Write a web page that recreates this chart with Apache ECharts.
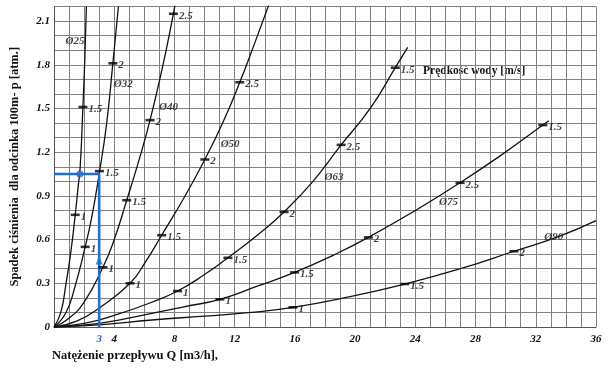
<!DOCTYPE html>
<html>
<head>
<meta charset="utf-8">
<script src="https://cdn.jsdelivr.net/npm/echarts@6/dist/echarts.min.js"></script>
<style>html,body{margin:0;padding:0;background:#fff}#c{width:610px;height:370px}</style>
</head>
<body>
<div id="c"></div>
<script>
// ---- data (Q [m3/h], p [atm/100m]) ----
const pipeNames = ['Ø25','Ø32','Ø40','Ø50','Ø63','Ø75','Ø90'];
const curve25 = [[0,0],[0.45,0.1],[0.8,0.3],[1.1,0.5],[1.41,0.77],[1.6,0.96],[1.74,1.1],[1.92,1.51],[2.05,1.85],[2.15,2.2]];
const curve32 = [[0,0],[0.8,0.1],[1.4,0.28],[2.07,0.55],[2.5,0.75],[3.0,1.05],[3.5,1.4],[3.91,1.81],[4.28,2.2]];
const curve40 = [[0,0],[1,0.06],[2,0.17],[3.25,0.41],[4.0,0.6],[4.83,0.87],[5.6,1.13],[6.38,1.42],[7.2,1.78],[7.93,2.15],[8.05,2.22]];
const curve50 = [[0,0],[1.5,0.04],[3,0.13],[5.05,0.3],[6.1,0.45],[7.15,0.63],[8.6,0.88],[10.02,1.15],[11.2,1.4],[12.34,1.68],[13.3,1.94],[14.3,2.22]];
const curve63 = [[0,0],[2,0.025],[4,0.08],[6.5,0.17],[8.21,0.247],[10,0.36],[11.55,0.475],[13.5,0.63],[15.28,0.79],[17.2,1.0],[19.07,1.25],[21,1.5],[22.67,1.78],[23.49,1.92]];
const curve75 = [[0,0],[3,0.025],[6.5,0.094],[8.7,0.14],[11.02,0.19],[13.5,0.28],[15.98,0.375],[18.5,0.49],[20.88,0.615],[24,0.8],[26.97,0.99],[29.7,1.18],[32.47,1.386],[32.87,1.416]];
const curve90 = [[0,0],[3,0.015],[6.5,0.048],[10,0.075],[13.1,0.1],[15.87,0.135],[19.5,0.205],[23.3,0.295],[27,0.4],[30.55,0.52],[33.5,0.62],[36,0.73]];
const curves = [curve25, curve32, curve40, curve50, curve63, curve75, curve90];

// velocity marks [Q, p, label]
const vel25 = [[1.41,0.77,'1'],[1.92,1.51,'1.5']];
const vel32 = [[2.07,0.55,'1'],[3.02,1.07,'1.5'],[3.91,1.81,'2']];
const vel40 = [[3.25,0.41,'1'],[4.83,0.87,'1.5'],[6.38,1.42,'2'],[7.93,2.15,'2.5']];
const vel50 = [[5.05,0.30,'1'],[7.15,0.63,'1.5'],[10.02,1.15,'2'],[12.34,1.68,'2.5']];
const vel63 = [[8.21,0.247,'1'],[11.55,0.475,'1.5'],[15.28,0.79,'2'],[19.07,1.25,'2.5'],[22.67,1.78,'1.5']];
const vel75 = [[11.02,0.19,'1'],[15.98,0.375,'1.5'],[20.88,0.615,'2'],[26.97,0.99,'2.5'],[32.47,1.386,'1.5']];
const vel90 = [[15.87,0.135,'1'],[23.3,0.295,'1.5'],[30.55,0.52,'2']];
const velMarks = [].concat(vel25, vel32, vel40, vel50, vel63, vel75, vel90);

// pipe name label anchors [Q, p]
const pipeLabelPos = [[1.4,1.96],[4.6,1.67],[7.6,1.51],[11.7,1.256],[18.6,1.03],[26.2,0.86],[33.2,0.615]];

// example reading (blue)
const exampleQ = 3;
const exampleP = 1.05;
const exampleArrowP = 0.46;
const exampleDotQ = 1.72;

const xTickLabels = [3,4,8,12,16,20,24,28,32,36];
const yTickLabels = [0,0.3,0.6,0.9,1.2,1.5,1.8,2.1];

const xTitle = 'Natężenie przepływu Q [m3/h],';
const yTitle = 'Spadek ciśnienia  dla odcinka 100m- p [atm.]';
const velTitle = 'Prędkość wody [m/s]';

// ---- chart ----
const SERIF = '"Liberation Serif","DejaVu Serif",serif';
const BLUE = '#1f6fd0';
const chart = echarts.init(document.getElementById('c'), null, {renderer:'canvas'});

const series = [];
curves.forEach((c, i) => {
  series.push({
    type:'line', name:pipeNames[i], data:c, smooth:0.5,
    symbol:'none', lineStyle:{color:'#111', width:1.3}, z:3, animation:false
  });
});
series.push({
  type:'line', data:[[0,exampleP],[exampleQ,exampleP],[exampleQ,0]],
  symbol:'none', lineStyle:{color:BLUE, width:2.6}, z:4, animation:false
});
series.push({
  type:'scatter', data:[[exampleQ,exampleArrowP]], symbol:'triangle', symbolSize:[7,9],
  itemStyle:{color:BLUE}, z:5, animation:false
});
series.push({
  type:'scatter', data:[[exampleDotQ,exampleP]], symbol:'circle', symbolSize:7,
  itemStyle:{color:BLUE}, z:5, animation:false
});
series.push({
  type:'scatter', data:velMarks.map(m => ({value:[m[0],m[1]], label:{formatter:m[2]}})),
  symbol:'rect', symbolSize:[9,2.6], itemStyle:{color:'#000'}, z:6, animation:false,
  label:{show:true, position:'right', distance:1, offset:[0,2],
    fontFamily:SERIF, fontStyle:'italic', fontWeight:'bold', fontSize:11, color:'#111'}
});
series.push({
  type:'scatter', data:pipeLabelPos.map((p,i) => ({value:p, label:{formatter:pipeNames[i]}})),
  symbolSize:0, z:6, animation:false,
  label:{show:true, position:'inside',
    fontFamily:SERIF, fontStyle:'italic', fontWeight:'bold', fontSize:11, color:'#111'}
});

chart.setOption({
  backgroundColor:'#fff',
  animation:false,
  grid:{left:52, right:14, top:6.5, bottom:43, containLabel:false},
  xAxis:{
    type:'value', min:0, max:36, interval:1,
    axisLine:{show:true, lineStyle:{color:'#555', width:1}},
    axisTick:{show:false},
    splitLine:{show:true, lineStyle:{color:'#808080', width:1}},
    axisLabel:{
      margin:7, interval:0,
      formatter:v => xTickLabels.indexOf(v) < 0 ? '' : (v === exampleQ ? '{b|' + v + '}' : '{n|' + v + '}'),
      rich:{
        n:{fontFamily:SERIF, fontStyle:'italic', fontWeight:'bold', fontSize:11, color:'#111'},
        b:{fontFamily:SERIF, fontStyle:'italic', fontWeight:'bold', fontSize:11, color:BLUE}
      }
    }
  },
  yAxis:{
    type:'value', min:0, max:2.2, interval:0.1,
    axisLine:{show:true, lineStyle:{color:'#555', width:1}},
    axisTick:{show:false},
    splitLine:{show:true, lineStyle:{color:'#808080', width:1}},
    axisLabel:{
      margin:4,
      formatter:v => {
        const k = Math.round(v*10);
        const hit = yTickLabels.find(t => Math.round(t*10) === k);
        if (hit === undefined) return '';
        return hit === 0 ? '0' : hit.toFixed(1);
      },
      fontFamily:SERIF, fontStyle:'italic', fontWeight:'bold', fontSize:11, color:'#111'
    },
    name:yTitle, nameLocation:'middle', nameRotate:90, nameGap:33,
    nameTextStyle:{fontFamily:SERIF, fontWeight:'bold', fontSize:12.5, color:'#111'}
  },
  graphic:[
    {type:'text', left:52, top:349, style:{text:xTitle, font:'bold 12.5px ' + SERIF, fill:'#111'}},
    {type:'text', left:423, top:65, style:{text:velTitle, font:'bold 11.5px ' + SERIF, fill:'#111'}}
  ],
  series:series
});
</script>
</body>
</html>
